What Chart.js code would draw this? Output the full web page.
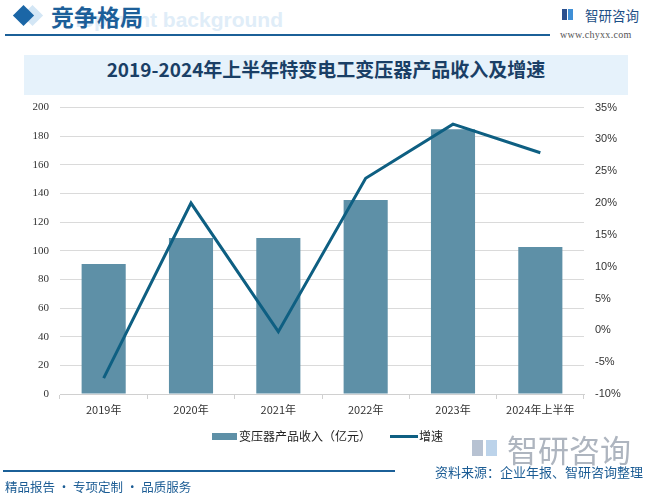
<!DOCTYPE html>
<html>
<head>
<meta charset="utf-8">
<script src="https://cdn.jsdelivr.net/npm/chart.js@4"></script>
<style>
  html, body { margin:0; padding:0; background:#fff; }
  body { width:654px; height:500px; position:relative; overflow:hidden; font-family:"Noto Sans CJK SC","Noto Sans",sans-serif; }
  .abs { position:absolute; white-space:nowrap; }
  #bgword { left:0; top:7px; width:283px; text-align:right; overflow:hidden; font:bold 21px "Liberation Sans",Arial,sans-serif; color:#e0edf8; line-height:26px; }
  #sec { left:51px; top:1px; font:bold 23px "Noto Sans CJK SC",sans-serif; color:#1d5f99; line-height:30px; }
  .dia { position:absolute; width:15px; height:15px; transform:rotate(45deg); }
  #rule { left:5px; top:34px; width:545px; height:2px; background:#1b6098; }
  #logoTxt { left:585px; top:6px; font:13.5px "Noto Sans CJK SC",sans-serif; color:#1d4f86; line-height:18px; }
  #www { left:560px; top:29px; font:10px "Liberation Serif",serif; color:#555; letter-spacing:0.3px; }
  #titlebox { left:24px; top:55px; width:604px; height:40px; background:#e6f2fb; }
  #title { left:24px; top:55px; width:604px; height:40px; line-height:40px; text-align:center; font:bold 19px "Noto Sans CJK SC",sans-serif; color:#1a3f66; }
  #chartwrap { position:absolute; left:0; top:90px; width:654px; height:338px; }
  .leg { position:absolute; top:428px; font:12px "Noto Sans CJK SC",sans-serif; color:#222; line-height:16px; }
  #bigLogo { left:507px; top:432px; font:31px "Noto Sans CJK SC",sans-serif; color:#aeb5bf; line-height:34px; }
  #source { left:435px; top:463px; font:13px "Noto Sans CJK SC",sans-serif; color:#1b5c94; line-height:18px; }
  #frule { left:3px; top:470px; width:392px; height:2px; background:#1b6098; }
  #foot { left:5px; top:478px; font:12.5px "Noto Sans CJK SC",sans-serif; color:#1b5c94; line-height:18px; }
</style>
</head>
<body>
<div class="abs" id="bgword">lopment background</div>
<div class="dia" style="left:25px;top:8px;background:#d3e6f5;"></div>
<div class="dia" style="left:16px;top:8px;background:#1b66a6;"></div>
<div class="abs" id="sec">竞争格局</div>
<div class="abs" id="rule"></div>

<div class="abs" style="left:562px;top:9px;width:5px;height:11px;background:#2a4f8e;"></div>
<div class="abs" style="left:568px;top:9px;width:5px;height:11px;background:#3f8fd6;"></div>
<div class="abs" id="logoTxt">智研咨询</div>
<div class="abs" id="www">www.chyxx.com</div>

<div class="abs" id="titlebox"></div>
<div class="abs" id="title">2019-2024年上半年特变电工变压器产品收入及增速</div>

<div id="chartwrap"><canvas id="c" width="654" height="338"></canvas></div>

<div class="abs" style="left:212px;top:433px;width:25px;height:7px;background:#5e90a7;"></div>
<div class="leg" style="left:239px;">变压器产品收入（亿元）</div>
<div class="abs" style="left:390px;top:435px;width:28px;height:3px;background:#0e5f82;"></div>
<div class="leg" style="left:419px;">增速</div>

<div class="abs" style="left:472px;top:440px;width:11px;height:16px;background:#b7c2d2;"></div>
<div class="abs" style="left:486px;top:440px;width:11px;height:16px;background:#bcd3ea;"></div>
<div class="abs" id="bigLogo">智研咨询</div>
<div class="abs" id="source">资料来源：企业年报、智研咨询整理</div>
<div class="abs" id="frule"></div>
<div class="abs" id="foot">精品报告 · 专项定制 · 品质服务</div>

<script>
const categories = ["2019年", "2020年", "2021年", "2022年", "2023年", "2024年上半年"];
const revenue = [90.8, 108.9, 109.0, 135.4, 184.9, 102.6];
const growth = [-7.5, 20.0, -0.2, 23.9, 32.4, 27.9];
const leftTicks = [0, 20, 40, 60, 80, 100, 120, 140, 160, 180, 200];
const rightTicks = [-10, -5, 0, 5, 10, 15, 20, 25, 30, 35];

new Chart(document.getElementById('c'), {
  data: {
    labels: categories,
    datasets: [
      {
        type: 'line', label: '增速', data: growth, yAxisID: 'y1',
        borderColor: '#0e5f82', borderWidth: 3, pointRadius: 0, pointHoverRadius: 0,
        tension: 0, fill: false, order: 0
      },
      {
        type: 'bar', label: '变压器产品收入（亿元）', data: revenue, yAxisID: 'y',
        backgroundColor: '#5e90a7', barPercentage: 0.505, categoryPercentage: 1.0, order: 1
      }
    ]
  },
  options: {
    responsive: false, animation: false, devicePixelRatio: 1,
    layout: { padding: { top: 9, left: 0, right: 0, bottom: 0 } },
    plugins: { legend: { display: false }, tooltip: { enabled: false } },
    scales: {
      x: {
        offset: true,
        grid: { display: true, drawOnChartArea: false, drawTicks: true, tickLength: 5, offset: true, color: '#d0d0d0' },
        border: { display: true, color: '#d0d0d0' },
        ticks: { padding: 4, color: '#333', font: { family: '"Noto Sans CJK SC", sans-serif', size: 11 }, maxRotation: 0 },
        afterFit: s => { s.height = 34; }
      },
      y: {
        position: 'left', min: 0, max: 200,
        afterBuildTicks: s => { s.ticks = leftTicks.map(v => ({ value: v })); },
        grid: { color: '#dadada', drawTicks: false },
        border: { display: false },
        ticks: { padding: 11, color: '#333', font: { family: '"Liberation Serif", serif', size: 11 } },
        afterFit: s => { s.width = 60; }
      },
      y1: {
        position: 'right', min: -10, max: 35,
        afterBuildTicks: s => { s.ticks = rightTicks.map(v => ({ value: v })); },
        grid: { display: false, drawTicks: false },
        border: { display: false },
        ticks: { padding: 11, color: '#333', font: { family: '"Liberation Sans", sans-serif', size: 11 }, callback: v => v + '%' },
        afterFit: s => { s.width = 70; }
      }
    }
  }
});
</script>
</body>
</html>
